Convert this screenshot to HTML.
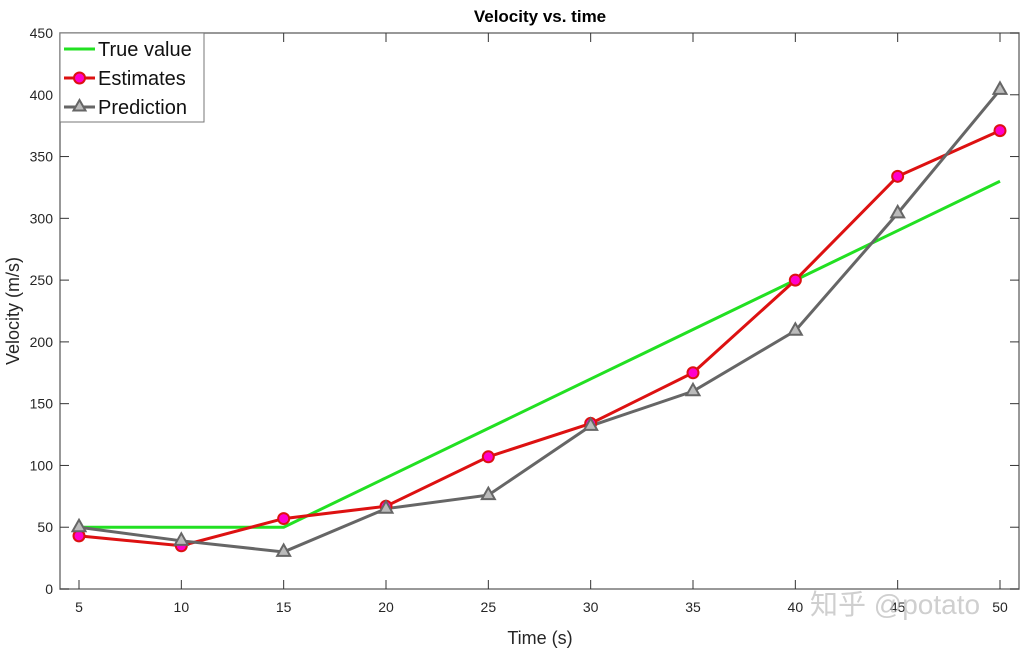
<!DOCTYPE html>
<html><head><meta charset="utf-8"><style>
body{margin:0;background:#fff;}
svg text{font-family:"Liberation Sans","Noto Sans CJK SC",sans-serif;}
</style></head><body>
<svg id="chart" width="1035" height="652">
<text x="540" y="22" text-anchor="middle" font-size="17" font-weight="bold">Velocity vs. time</text>
<text x="540" y="644" text-anchor="middle" font-size="18" fill="#262626">Time (s)</text>
<text transform="translate(19,311) rotate(-90)" text-anchor="middle" font-size="18" fill="#262626">Velocity (m/s)</text>
<g id="axes"></g>
<g id="series"></g>
<g>
<rect x="60" y="33" width="144" height="89" fill="#fff" stroke="#777" stroke-width="1"/>
<line x1="64" y1="49" x2="95" y2="49" stroke="#22e022" stroke-width="3"/>
<text x="98" y="56" font-size="20" fill="#111">True value</text>
<line x1="64" y1="78" x2="95" y2="78" stroke="#dd1111" stroke-width="3"/>
<circle cx="79.5" cy="78" r="5.5" fill="#ff00cc" stroke="#dd1111" stroke-width="2"/>
<text x="98" y="85" font-size="20" fill="#111">Estimates</text>
<line x1="64" y1="107" x2="95" y2="107" stroke="#666" stroke-width="3"/>
<polygon points="79.5,100 85.5,110.5 73.5,110.5" fill="#bbb" stroke="#666" stroke-width="2"/>
<text x="98" y="114" font-size="20" fill="#111">Prediction</text>
</g>
<text x="810" y="614" font-size="28" fill="#bbb" opacity="0.7">知乎 @potato</text>
</svg>
<script>
const times=[5,10,15,20,25,30,35,40,45,50];
const trueValues=[50,50,50,90,130,170,210,250,290,330];
const estimates=[43,35,57,67,107,134,175,250,334,371];
const predictions=[50,39,30,65,76,132,160,209,304,404];
const xTicks=[5,10,15,20,25,30,35,40,45,50];
const yTicks=[0,50,100,150,200,250,300,350,400,450];
const L=60,R=1019,T=33,B=589;
const xs=v=>79+(v-5)*(1000-79)/45;
const ys=v=>B-v*(B-T)/450;
const NS="http://www.w3.org/2000/svg";
function mk(tag,attrs,parent){const e=document.createElementNS(NS,tag);for(const k in attrs)e.setAttribute(k,attrs[k]);parent.appendChild(e);return e;}
const ax=document.getElementById('axes');
const frame=mk('rect',{x:L,y:T,width:R-L,height:B-T,fill:'none',stroke:'#777','stroke-width':1.5},ax);


xTicks.forEach(t=>{const x=xs(t);
mk('line',{x1:x,y1:B,x2:x,y2:B-9,stroke:'#333'},ax);mk('line',{x1:x,y1:T,x2:x,y2:T+9,stroke:'#333'},ax);
const tx=mk('text',{x:x,y:B+23,'text-anchor':'middle','font-size':14,fill:'#262626'},ax);tx.textContent=t;

});
yTicks.forEach(t=>{const y=ys(t);
mk('line',{x1:L,y1:y,x2:L+9,y2:y,stroke:'#333'},ax);mk('line',{x1:R,y1:y,x2:R-9,y2:y,stroke:'#333'},ax);
const tx=mk('text',{x:L-7,y:y+5,'text-anchor':'end','font-size':14,fill:'#262626'},ax);tx.textContent=t;

});
const sg=document.getElementById('series');
function line(vals,color,name){const p=mk('polyline',{points:vals.map((v,i)=>xs(times[i])+','+ys(v)).join(' '),fill:'none',stroke:color,'stroke-width':3},sg);

}
line(trueValues,'#22e022','true-value-line');
line(estimates,'#dd1111','estimates-line');
line(predictions,'#666','prediction-line');
estimates.forEach((v,i)=>{const c=mk('circle',{cx:xs(times[i]),cy:ys(v),r:5.5,fill:'#ff00cc',stroke:'#dd1111','stroke-width':2},sg);

});
predictions.forEach((v,i)=>{const x=xs(times[i]),y=ys(v);const p=mk('polygon',{points:`${x},${y-7.5} ${x+6.5},${y+4} ${x-6.5},${y+4}`,fill:'#bbb',stroke:'#666','stroke-width':2},sg);

});
</script>
</body></html>
